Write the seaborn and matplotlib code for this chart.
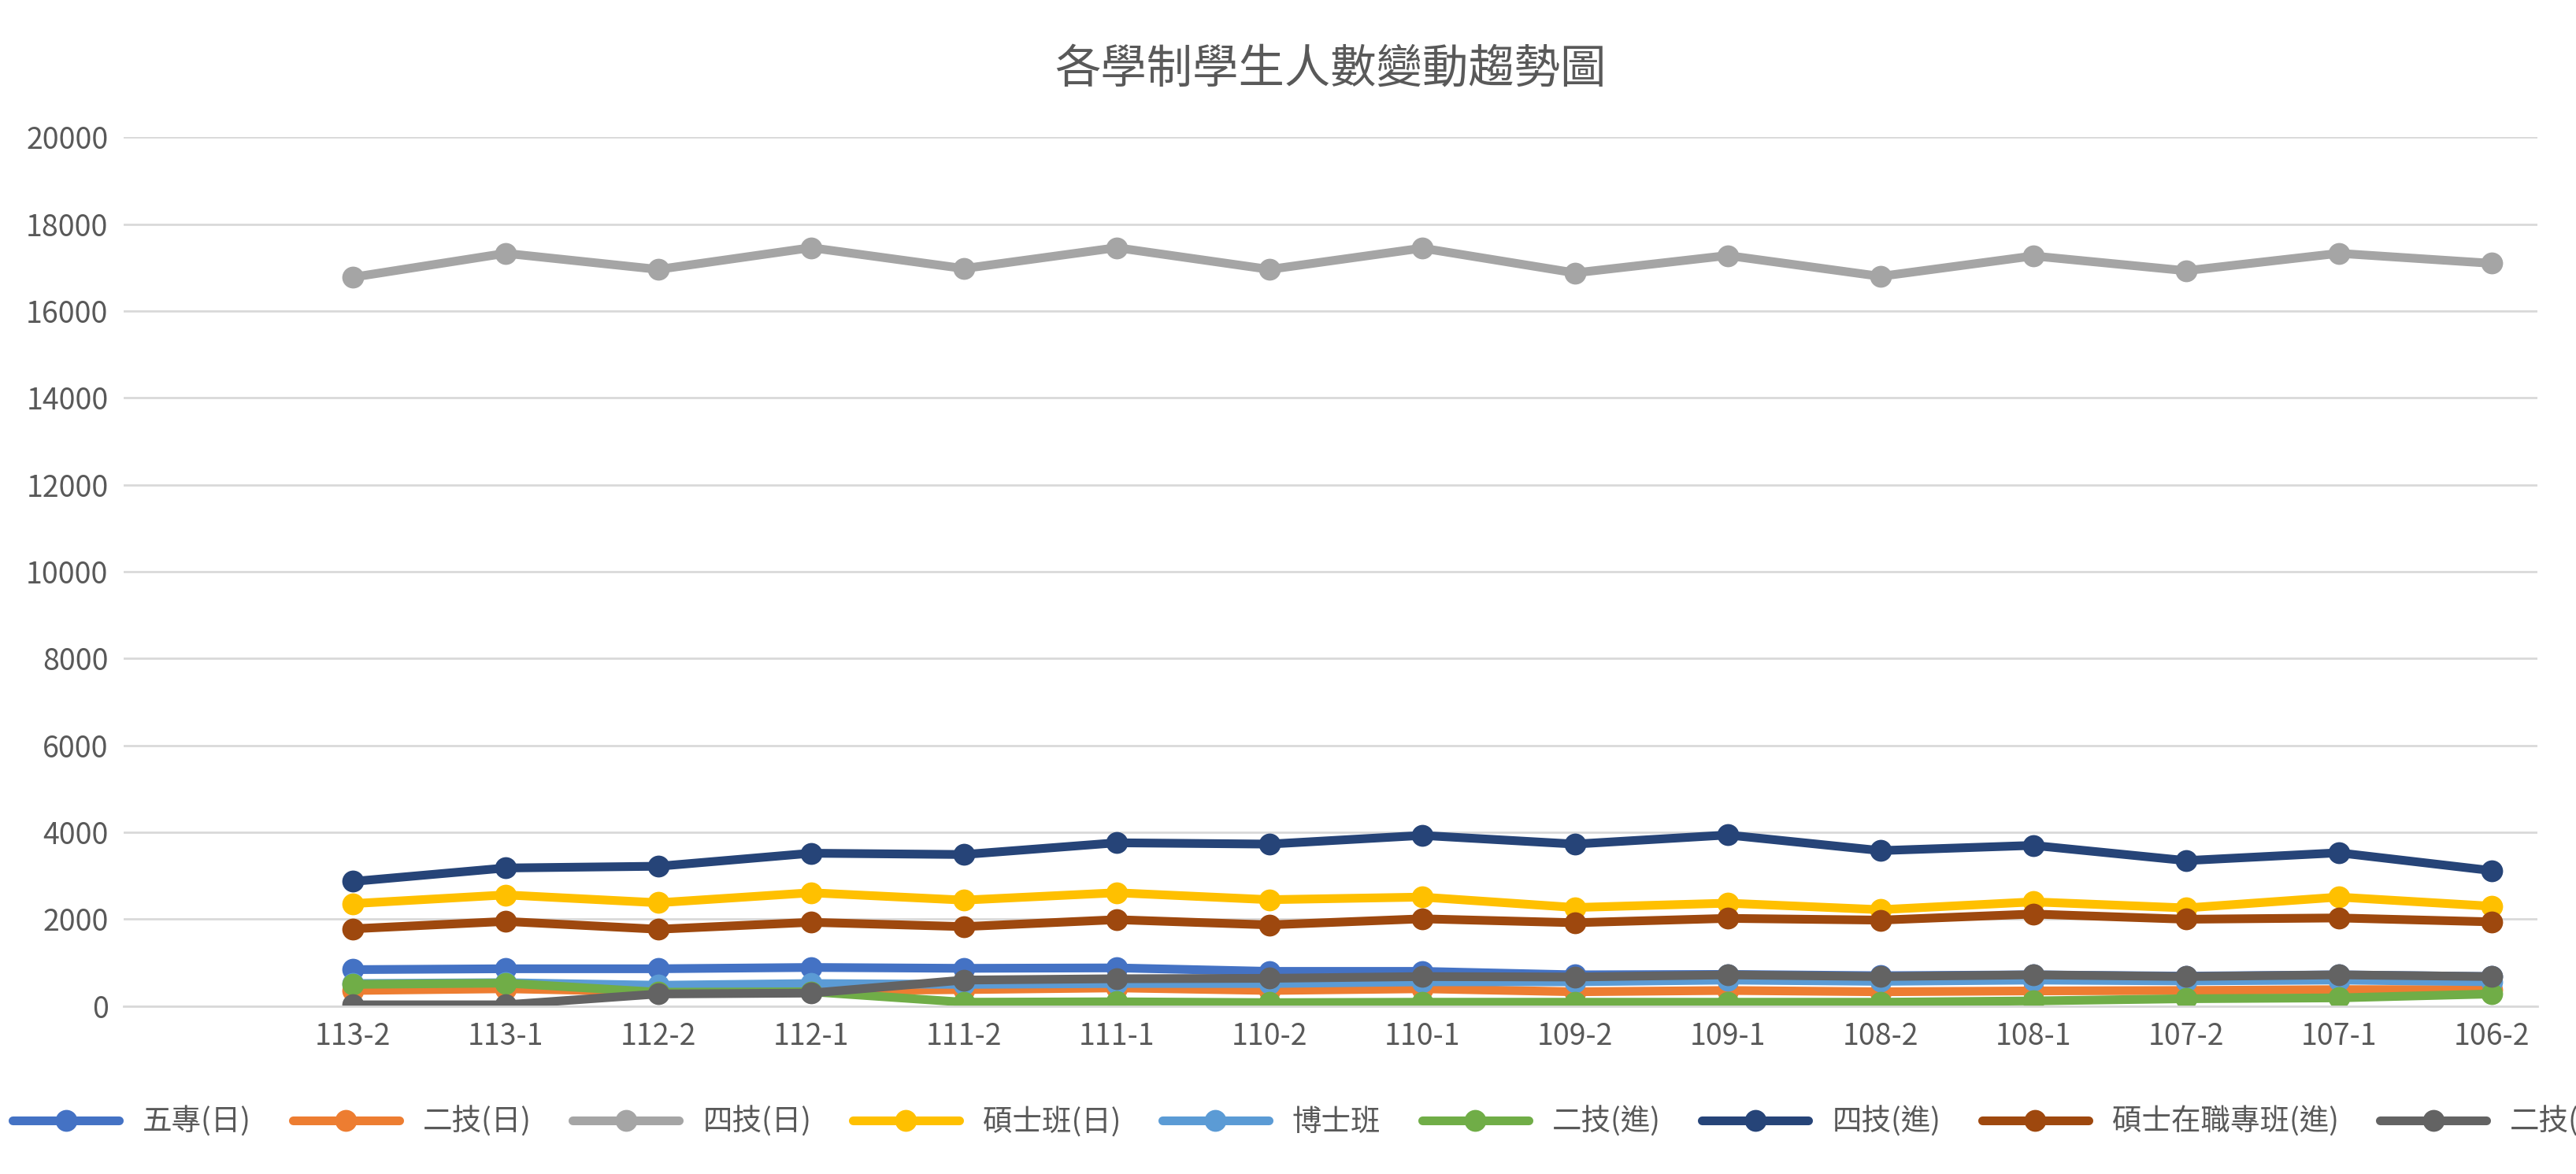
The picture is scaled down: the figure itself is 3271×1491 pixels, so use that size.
import matplotlib
matplotlib.use('Agg')
from matplotlib import pyplot as plt
import seaborn as sns
import pandas as pd

sns.set_style('white')
plt.rcParams['font.family'] = 'sans-serif'
plt.rcParams['font.sans-serif'] = ['Noto Sans CJK TC', 'DejaVu Sans']

terms = ['113-2', '113-1', '112-2', '112-1', '111-2', '111-1', '110-2', '110-1',
         '109-2', '109-1', '108-2', '108-1', '107-2', '107-1', '106-2']

five_year = [840, 860, 860, 890, 870, 880, 800, 800, 720, 730, 700, 720, 690, 720, 680]
two_year_day = [360, 400, 330, 350, 380, 420, 360, 400, 330, 360, 330, 350, 360, 380, 380]
four_year_day = [16780, 17330, 16960, 17460, 16980, 17460, 16960, 17450, 16880, 17280, 16800, 17270, 16930, 17330, 17100]
master_day = [2360, 2560, 2380, 2610, 2440, 2610, 2450, 2510, 2270, 2370, 2220, 2400, 2260, 2510, 2300]
phd = [520, 540, 480, 520, 500, 520, 520, 560, 560, 600, 570, 600, 580, 600, 560]
two_year_eve = [500, 530, 320, 330, 90, 100, 80, 90, 90, 90, 90, 120, 170, 190, 280]
four_year_eve = [2870, 3180, 3220, 3520, 3490, 3760, 3730, 3930, 3730, 3940, 3580, 3700, 3350, 3530, 3120]
master_job = [1780, 1950, 1770, 1930, 1830, 1990, 1870, 2010, 1920, 2020, 1980, 2120, 2000, 2030, 1940]
two_year_inst = [30, 30, 280, 300, 600, 630, 640, 680, 670, 720, 680, 720, 680, 720, 680]

series = ['五專(日)', '二技(日)', '四技(日)', '碩士班(日)', '博士班', '二技(進)', '四技(進)', '碩士在職專班(進)', '二技(進院)']
values = [five_year, two_year_day, four_year_day, master_day, phd, two_year_eve, four_year_eve, master_job, two_year_inst]
colors = ['#4472C4', '#ED7D31', '#A5A5A5', '#FFC000', '#5B9BD5', '#70AD47', '#264478', '#9E480E', '#636363']

df = pd.DataFrame([(t, s, v) for s, vals in zip(series, values) for t, v in zip(terms, vals)],
                  columns=['term', 'series', 'count'])

fig, ax = plt.subplots(figsize=(32.71, 14.91), dpi=100)
sns.lineplot(data=df, x='term', y='count', hue='series', hue_order=series, palette=colors,
             marker='o', markersize=20, markeredgewidth=0, linewidth=8, sort=False, ax=ax)

ax.set_ylim(0, 20000)
ax.set_yticks(range(0, 20001, 2000))
ax.set_xlim(-1.5, 14.3)
ax.grid(axis='y', color='#D9D9D9', linewidth=2)
ax.set_axisbelow(True)
for side in ['top', 'right', 'left']:
    ax.spines[side].set_visible(False)
ax.spines['bottom'].set_color('#D9D9D9')
ax.spines['bottom'].set_linewidth(2)
ax.tick_params(axis='both', labelsize=27, colors='#595959', length=0, pad=14)
ax.set_xlabel('')
ax.set_ylabel('')
ax.set_title('各學制學生人數變動趨勢圖', fontsize=42, color='#595959', pad=50)

ax.legend(loc='upper center', bbox_to_anchor=(0.5, -0.085), ncol=9, frameon=False,
          fontsize=27, labelcolor='#595959', handlelength=3.6, columnspacing=1.4)

plt.subplots_adjust(left=0.048, right=0.985, top=0.883, bottom=0.143)
fig.savefig('out.png', dpi=100)
